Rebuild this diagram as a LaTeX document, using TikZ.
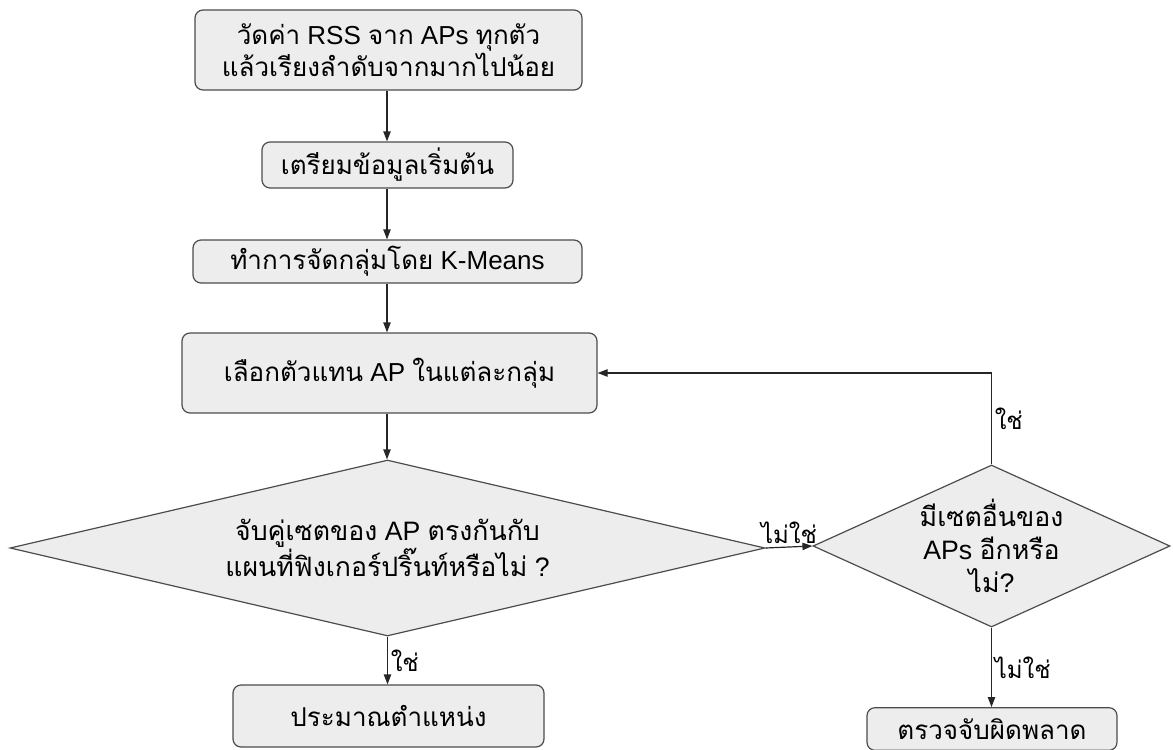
\documentclass[tikz,border=0pt]{standalone}
\usepackage{fontspec}
\setmainfont{Liberation Sans}
\newfontfamily\thaifont[Script=Thai]{Loma}
\newcommand{\thai}[1]{{\thaifont #1}}
\usetikzlibrary{
  arrows.meta,
  positioning,
  shapes.geometric
}
\tikzset{
  procbox/.style = {
    draw=black!70,
    fill=black!7,
    line width=0.9pt,
    rounded corners=6pt,
    align=center,
    inner sep=0pt,
    font=\fontsize{19.5}{24}\selectfont
  },
  decision/.style = {
    diamond,
    draw=black!70,
    fill=black!7,
    line width=0.9pt,
    align=center,
    inner sep=0pt,
    font=\fontsize{20}{25}\selectfont
  },
  flow/.style = {
    -{Triangle[length=7.5pt,width=5.5pt]},
    draw=black!85,
    line width=0.9pt
  },
  answer/.style = {
    font=\fontsize{18}{18}\selectfont,
    inner sep=2pt
  }
}

\begin{document}
\begin{tikzpicture}[x=0.75pt, y=-0.75pt]

    % Frame of the picture
    \clip (0,0) rectangle (1173,749);

    % Main column of steps
    \node[procbox, minimum width=290.25pt, minimum height=60pt] (rss) at (388.5,50)
        {\thai{วัดค่า} RSS \thai{จาก} APs \thai{ทุกตัว}\\ \thai{แล้วเรียงลำดับจากมากไปน้อย}};
    \node[procbox, minimum width=188.25pt, minimum height=34.5pt] (prep) at (387.5,165)
        {\thai{เตรียมข้อมูลเริ่มต้น}};
    \node[procbox, minimum width=291.75pt, minimum height=32.25pt] (kmeans) at (387.5,261.5)
        {\thai{ทำการจัดกลุ่มโดย} K-Means};
    \node[procbox, minimum width=311.25pt, minimum height=60pt] (select) at (389.5,373)
        {\thai{เลือกตัวแทน} AP \thai{ในแต่ละกลุ่ม}};

    % Decisions
    \node[decision, aspect=4.29, minimum width=566.25pt, minimum height=132pt] (match) at (387.5,548)
        {\thai{จับคู่เซตของ} AP \thai{ตรงกันกับ}\\ \thai{แผนที่ฟิงเกอร์ปริ๊นท์หรือไม่} ?};
    \node[decision, aspect=2.2, minimum width=267.75pt, minimum height=121.5pt] (other) at (991.5,546)
        {\thai{มีเซตอื่นของ}\\ APs \thai{อีกหรือ}\\ \thai{ไม่}?};

    % End steps
    \node[procbox, minimum width=233.25pt, minimum height=46.5pt] (estimate) at (388.5,716)
        {\thai{ประมาณตำแหน่ง}};
    \node[procbox, minimum width=187.5pt, minimum height=32pt] (error) at (992,729)
        {\thai{ตรวจจับผิดพลาด}};

    % Straight flow down the column
    \foreach \from/\to in {rss/prep, prep/kmeans, kmeans/select, select/match} {
        \draw[flow] (\from.south -| 387,0) -- (\to.north -| 387,0);
    }

    % Answers
    \draw[flow] (match.south) -- node[answer, right] {\thai{ใช่}} (estimate.north -| match.south);
    \draw[flow] (match.east) -- node[answer, above] {\thai{ไม่ใช่}} (other.west);
    \draw[flow] (other.north) |- node[answer, right, pos=0.25] {\thai{ใช่}} (select.east);
    \draw[flow] (other.south) -- node[answer, right] {\thai{ไม่ใช่}} (error.north -| other.south);

\end{tikzpicture}
\end{document}
